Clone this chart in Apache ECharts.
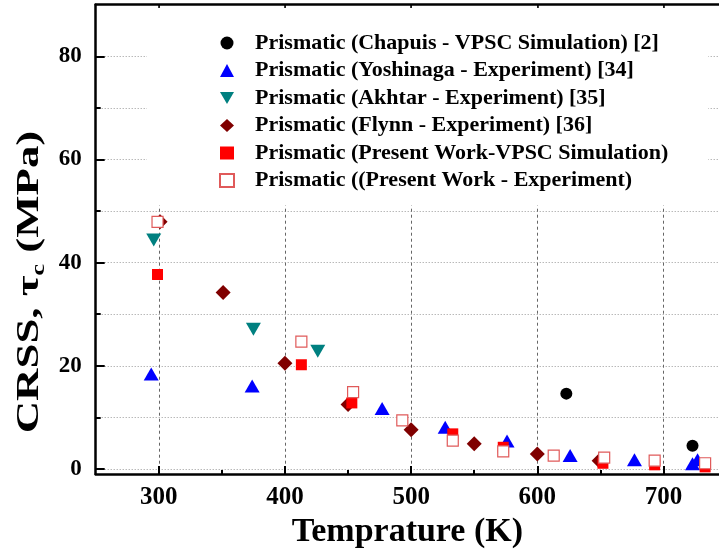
<!DOCTYPE html>
<html>
<head>
<meta charset="utf-8">
<script src="https://cdn.jsdelivr.net/npm/echarts@6/dist/echarts.min.js"></script>
<style>html,body{margin:0;padding:0;background:#fff}#c{width:719px;height:554px}</style>
</head>
<body>
<div id="c"></div>
<script>
// Tick values
const xMajorTicks = [300, 400, 500, 600, 700];
const xMinorTicks = [350, 450, 550, 650];
const yMajorTicks = [0, 20, 40, 60, 80];
const yMinorTicks = [10, 30, 50, 70];

// Series names
const seriesNames = [
  'Prismatic (Chapuis - VPSC Simulation) [2]',
  'Prismatic (Yoshinaga - Experiment) [34]',
  'Prismatic (Akhtar - Experiment) [35]',
  'Prismatic (Flynn - Experiment) [36]',
  'Prismatic (Present Work-VPSC Simulation)',
  'Prismatic ((Present Work - Experiment)'
];

// Data (temperature K, CRSS MPa)
const chapuisT = [623, 723];
const chapuisTau = [14.6, 4.5];

const yoshinagaT = [294, 374, 477, 527, 576, 626, 677, 723, 727];
const yoshinagaTau = [18.4, 16.1, 11.7, 8.1, 5.4, 2.6, 1.8, 1.0, 1.8];

const akhtarT = [296, 375, 426];
const akhtarTau = [44.4, 27.1, 22.8];

const flynnT = [301, 351, 400, 450, 500, 550, 600, 649];
const flynnTau = [47.9, 34.2, 20.5, 12.5, 7.6, 4.9, 2.9, 1.6];

const vpscT = [299, 413, 453, 533, 573, 652, 693, 733];
const vpscTau = [37.7, 20.2, 12.8, 6.8, 4.2, 1.1, 0.8, 0.4];

const expT = [299, 413, 454, 493, 533, 573, 613, 653, 693, 733];
const expTau = [47.9, 24.7, 14.9, 9.4, 5.5, 3.4, 2.6, 2.2, 1.6, 1.1];

function pairs(xs, ys) { return xs.map((x, i) => [x, ys[i]]); }

const FONT = '"Liberation Serif", "Times New Roman", serif';
const DOWN_TRIANGLE = 'path://M0,0L20,0L10,17.3Z';

const chart = echarts.init(document.getElementById('c'), null, { renderer: 'canvas' });

const baseX = { type: 'value', min: 250, max: 744, gridIndex: 0 };
const baseY = { type: 'value', min: -1, max: 90, gridIndex: 0 };

chart.setOption({
  backgroundColor: '#fff',
  animation: false,
  grid: { left: 95.7, right: 0, top: 4.7, bottom: 76.2, containLabel: false },
  xAxis: [
    Object.assign({}, baseX, {
      position: 'bottom',
      name: 'Temprature (K)',
      nameLocation: 'middle',
      nameGap: 36,
      nameTextStyle: { fontFamily: FONT, fontWeight: 'bold', fontSize: 34, color: '#000' },
      axisLine: { show: true, onZero: false, lineStyle: { color: '#000', width: 2.5 } },
      axisTick: { show: true, inside: true, length: 8, customValues: xMajorTicks, lineStyle: { color: '#000', width: 2 } },
      axisLabel: { show: true, customValues: xMajorTicks, margin: 11, fontFamily: FONT, fontWeight: 'bold', fontSize: 25, color: '#000' },
      splitLine: { show: true, lineStyle: { color: '#666', type: [3, 3], width: 1 } }
    }),
    Object.assign({}, baseX, {
      position: 'bottom',
      axisLine: { show: false, onZero: false },
      axisTick: { show: true, inside: true, length: 4, customValues: xMinorTicks, lineStyle: { color: '#000', width: 2 } },
      axisLabel: { show: false },
      splitLine: { show: false }
    }),
    Object.assign({}, baseX, {
      position: 'top',
      axisLine: { show: true, onZero: false, lineStyle: { color: '#000', width: 2.5 } },
      axisTick: { show: true, inside: true, length: 4, customValues: xMajorTicks, lineStyle: { color: '#000', width: 1.5 } },
      axisLabel: { show: false },
      splitLine: { show: false }
    })
  ],
  yAxis: [
    Object.assign({}, baseY, {
      position: 'left',
      axisLine: { show: true, onZero: false, lineStyle: { color: '#000', width: 2.5 } },
      axisTick: { show: true, inside: true, length: 9, customValues: yMajorTicks, lineStyle: { color: '#000', width: 2 } },
      axisLabel: { show: true, customValues: yMajorTicks, margin: 14, fontFamily: FONT, fontWeight: 'bold', fontSize: 23, color: '#000' },
      splitLine: { show: true, lineStyle: { color: '#999', type: [1, 2], width: 1 } }
    }),
    Object.assign({}, baseY, {
      position: 'left',
      axisLine: { show: false, onZero: false },
      axisTick: { show: true, inside: true, length: 5, customValues: yMinorTicks, lineStyle: { color: '#000', width: 2 } },
      axisLabel: { show: false },
      splitLine: { show: true, lineStyle: { color: '#999', type: [1, 2], width: 1 } }
    })
  ],
  legend: {
    orient: 'vertical',
    left: 147,
    top: 8,
    padding: [24, 40, 14, 72],
    backgroundColor: '#fff',
    itemWidth: 14,
    itemHeight: 13,
    itemGap: 5.5,
    textStyle: { fontFamily: FONT, fontWeight: 'bold', fontSize: 22, color: '#000', padding: [0, 0, 0, 16] },
    data: seriesNames
  },
  graphic: [
    {
      type: 'text',
      x: 30,
      y: 282,
      rotation: Math.PI / 2,
      scaleX: 1.4,
      style: {
        text: '{a|CRSS, τ}{b|c}{a| (MPa)}',
        align: 'center',
        verticalAlign: 'middle',
        fill: '#000',
        rich: {
          a: { fontFamily: FONT, fontWeight: 'bold', fontSize: 32, fill: '#000' },
          b: { fontFamily: FONT, fontWeight: 'bold', fontSize: 19, fill: '#000', padding: [18, 0, 0, 0] }
        }
      }
    }
  ],
  series: [
    { name: seriesNames[0], type: 'scatter', symbol: 'circle', symbolSize: 12,
      itemStyle: { color: '#000', opacity: 1 }, data: pairs(chapuisT, chapuisTau) },
    { name: seriesNames[1], type: 'scatter', symbol: 'triangle', symbolSize: [15, 13],
      itemStyle: { color: '#0000ff', opacity: 1 }, data: pairs(yoshinagaT, yoshinagaTau) },
    { name: seriesNames[2], type: 'scatter', symbol: DOWN_TRIANGLE, symbolSize: [15, 13],
      itemStyle: { color: '#008080', opacity: 1 }, data: pairs(akhtarT, akhtarTau) },
    { name: seriesNames[3], type: 'scatter', symbol: 'diamond', symbolSize: 15,
      itemStyle: { color: '#800000', opacity: 1 }, data: pairs(flynnT, flynnTau) },
    { name: seriesNames[4], type: 'scatter', symbol: 'rect', symbolSize: 11,
      itemStyle: { color: '#ff0000', opacity: 1 }, data: pairs(vpscT, vpscTau) },
    { name: seriesNames[5], type: 'scatter', symbol: 'rect', symbolSize: 11,
      itemStyle: { color: '#ffffff', borderColor: '#e05a5a', borderWidth: 1.2, opacity: 1 }, data: pairs(expT, expTau) }
  ]
});
</script>
</body>
</html>
